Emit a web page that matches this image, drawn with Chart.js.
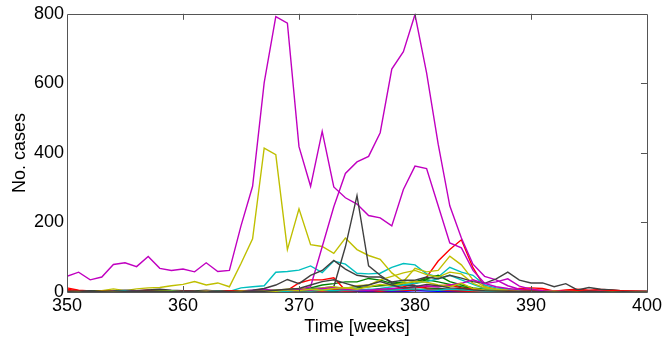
<!DOCTYPE html>
<html>
<head>
<meta charset="utf-8">
<script src="https://cdn.jsdelivr.net/npm/chart.js@4"></script>
<style>
  html, body { margin: 0; padding: 0; background: #fff; }
  canvas { display: block; }
</style>
</head>
<body>
<canvas id="cases-chart" width="665" height="345"></canvas>
<script>
// weekly case counts, one array per region
const weeks = [350,351,352,353,354,355,356,357,358,359,
               360,361,362,363,364,365,366,367,368,369,
               370,371,372,373,374,375,376,377,378,379,
               380,381,382,383,384,385,386,387,388,389,
               390,391,392,393,394,395,396,397,398,399,
               400]

const xTicks = [350, 360, 370, 380, 390, 400]
const yTicks = [0, 200, 400, 600, 800]

const blue1 = [1,3,4,3,2,3,4,2,1,2, 1,0,1,2,1,0,1,2,1,3, 2,1,3,2,4,3,2,1,3,2, 4,3,2,1,2,1,0,1,0,1, 0,0,1,0,0,1,2,3,3,1, 0]
const green1 = [1,2,0,1,3,2,1,0,2,3, 1,0,2,1,0,1,2,3,5,6, 8,12,20,24,29,29,39,34,25,29, 24,35,29,22,15,10,6,4,2,1, 0,1,0,2,1,0,0,1,0,0, 0]
const red1 = [8,3,2,1,0,2,1,0,1,3, 2,1,0,2,1,0,3,2,1,5, 26,35,35,41,5,3,5,3,8,15, 24,43,89,122,150,70,15,8,5,10, 12,10,2,6,8,5,7,6,3,2, 2]
const cyan1 = [2,1,0,2,1,3,2,1,4,2, 3,2,1,3,2,12,15,18,57,59, 63,75,56,89,80,54,52,54,71,82, 78,52,43,71,57,48,20,12,8,5, 3,2,1,2,0,1,0,1,0,0, 0]
const magB = [45,57,35,43,79,84,73,102,68,62, 66,58,84,59,62,190,304,602,792,773, 418,304,462,302,271,253,220,213,190,295, 362,355,248,141,127,62,25,15,10,6, 4,3,2,3,1,2,1,0,1,0, 0]
const yel1 = [0,2,2,4,9,4,9,12,13,18, 22,30,20,26,15,82,153,414,395,122, 239,136,131,111,155,122,105,94,55,30, 68,58,62,103,78,35,15,6,3,2, 1,1,0,2,1,0,1,0,2,1, 0]
const gray1 = [0,1,0,0,2,1,3,2,1,2, 4,2,1,3,0,2,3,5,4,6, 5,10,12,15,130,277,75,48,26,20, 18,12,10,8,6,5,3,2,1,2, 1,0,1,0,0,1,0,0,0,1, 0]

const blue2 = [0,1,2,1,0,1,0,2,1,0, 1,2,0,1,0,2,1,0,1,2, 1,3,2,5,4,3,5,6,4,3, 5,6,4,3,2,1,0,1,0,0, 1,0,0,0,1,0,0,1,0,0, 0]
const green2 = [0,1,2,0,1,3,2,1,0,1, 2,1,0,1,2,0,1,2,1,3, 2,4,6,8,10,12,15,18,20,25, 30,38,48,30,20,12,8,5,3,2, 1,0,1,0,0,1,0,0,0,0, 0]
const red2 = [12,5,3,2,4,1,3,6,2,1, 0,2,1,3,0,1,2,0,3,2, 4,6,3,8,10,6,4,5,7,10, 12,15,18,20,12,8,5,3,2,1, 0,2,4,1,0,2,1,0,1,0, 0]
const cyan2 = [0,1,0,0,2,0,1,0,0,1, 2,0,1,0,2,3,1,2,4,3, 5,8,6,10,12,8,6,10,15,20, 25,30,38,48,35,22,10,6,3,2, 1,0,1,0,0,1,0,0,0,1, 0]
const magA = [2,0,1,0,2,1,0,2,1,0, 3,1,2,0,3,2,5,8,4,3, 6,15,130,245,341,374,390,458,641,691, 798,630,425,248,155,80,45,35,18,8, 5,3,2,1,0,1,0,0,1,0, 0]
const yel2 = [1,0,2,1,0,3,1,0,2,1, 0,2,1,3,2,1,4,3,5,8, 10,6,12,15,10,18,20,35,45,55, 62,50,43,57,52,25,12,8,5,3, 2,4,1,0,2,1,0,3,1,0, 1]
const gray2 = [3,2,4,2,3,5,4,6,8,5, 4,3,5,2,4,3,5,10,20,36, 24,48,62,91,66,48,43,43,29,34, 34,43,38,48,40,30,25,38,57,34, 26,26,15,24,6,13,8,6,3,2, 2]

const green3 = [2,0,1,3,1,0,2,1,3,2, 0,1,2,0,1,2,1,0,2,1, 3,2,4,3,5,4,6,8,5,7, 6,9,8,5,4,3,2,1,0,1, 0,0,1,0,1,0,0,0,1,0, 0]
const red3 = [3,1,0,2,1,0,1,2,0,1, 2,1,0,1,3,2,0,1,2,1, 3,4,2,5,3,4,6,3,5,4, 6,8,5,4,3,2,1,2,3,4, 6,5,3,2,4,3,2,4,3,2, 1]
const cyan3 = [0,0,1,0,1,2,0,1,0,2, 1,0,1,2,0,1,0,2,3,2, 4,3,5,4,6,5,8,6,5,7, 9,6,5,8,6,4,3,2,1,2, 1,0,0,1,0,0,1,0,0,0, 0]
const mag3 = [1,0,1,0,0,1,2,0,1,0, 1,0,2,1,0,1,3,2,4,6, 8,5,10,12,8,6,5,8,10,12, 15,18,14,20,25,35,24,29,38,17, 8,4,2,1,0,1,0,0,1,0, 0]
const yel3 = [0,1,0,2,1,0,0,1,3,2, 1,0,2,1,0,2,1,3,2,6, 4,8,5,10,12,8,15,22,18,25, 30,28,20,15,25,10,6,4,2,1, 0,1,2,0,1,0,0,1,0,0, 0]
const gray3 = [1,0,2,1,0,1,2,3,2,1, 2,1,0,2,1,0,3,2,5,8, 10,20,30,35,25,15,20,30,20,12, 15,22,18,12,10,6,4,3,2,1, 2,1,0,1,0,2,1,0,1,0, 0]

// matlab-ish colour order
const BLUE = '#0000ff', GREEN = '#008000', RED = '#ff0000', CYAN = '#00bfbf'
const MAGENTA = '#c000c0', YELLOW = '#bfbf00', GRAY = '#404040'

const series = [
    [blue1, BLUE], [green1, GREEN], [red1, RED], [cyan1, CYAN], [magB, MAGENTA], [yel1, YELLOW], [gray1, GRAY],
    [blue2, BLUE], [green2, GREEN], [red2, RED], [cyan2, CYAN], [magA, MAGENTA], [yel2, YELLOW], [gray2, GRAY],
    [green3, GREEN], [red3, RED], [cyan3, CYAN], [mag3, MAGENTA], [yel3, YELLOW], [gray3, GRAY]
]

const FONT = { family: "'Liberation Sans', Arial, Helvetica, sans-serif", size: 18 }

// box round the plot with inward tick marks
const boxPlugin = {
    id: 'box',
    afterDatasetsDraw(chart) {
        const { ctx, chartArea: a, scales: { x, y } } = chart
        const len = 6
        ctx.save()
        ctx.strokeStyle = '#555'
        ctx.lineWidth = 1
        ctx.beginPath()
        ctx.rect(Math.round(a.left) + 0.5, Math.round(a.top) + 0.5,
            Math.round(a.right - a.left), Math.round(a.bottom - a.top))
        xTicks.slice(1, -1).forEach(v => {
            const px = Math.round(x.getPixelForValue(v)) + 0.5
            ctx.moveTo(px, a.top); ctx.lineTo(px, a.top + len)
            ctx.moveTo(px, a.bottom); ctx.lineTo(px, a.bottom - len)
        })
        yTicks.slice(1, -1).forEach(v => {
            const py = Math.round(y.getPixelForValue(v)) + 0.5
            ctx.moveTo(a.right, py); ctx.lineTo(a.right - len, py)
        })
        ctx.stroke()
        ctx.restore()
    }
}

new Chart(document.getElementById('cases-chart'), {
    type: 'line',
    data: {
        labels: weeks,
        // later lines are painted over earlier ones
        datasets: series.map(([vals, color], i) => ({
            data: vals.map((v, j) => ({ x: weeks[j], y: v })),
            borderColor: color,
            borderWidth: 1.4,
            pointRadius: 0,
            tension: 0,
            fill: false,
            order: series.length - i
        }))
    },
    options: {
        responsive: false,
        animation: false,
        devicePixelRatio: 1,
        layout: { padding: { top: 6, right: 16, left: 0, bottom: 0 } },
        plugins: { legend: { display: false }, tooltip: { enabled: false } },
        scales: {
            x: {
                type: 'linear',
                min: 350,
                max: 400,
                afterFit(scale) { scale.height = 53 },
                afterBuildTicks(scale) { scale.ticks = xTicks.map(v => ({ value: v })) },
                grid: { display: false, drawTicks: false },
                border: { display: false },
                ticks: { color: '#000', font: FONT, padding: 3, maxRotation: 0 },
                title: { display: true, text: 'Time [weeks]', color: '#000', font: FONT, padding: { top: 0, bottom: 7 } }
            },
            y: {
                min: 0,
                max: 800,
                afterFit(scale) { scale.width = 67 },
                afterBuildTicks(scale) { scale.ticks = yTicks.map(v => ({ value: v })) },
                grid: { display: false, drawTicks: false },
                border: { display: false },
                ticks: { color: '#000', font: FONT, padding: 3 },
                title: { display: true, text: 'No. cases', color: '#000', font: FONT, padding: { top: 9, bottom: 0 } }
            }
        }
    },
    plugins: [boxPlugin]
})
</script>
</body>
</html>
